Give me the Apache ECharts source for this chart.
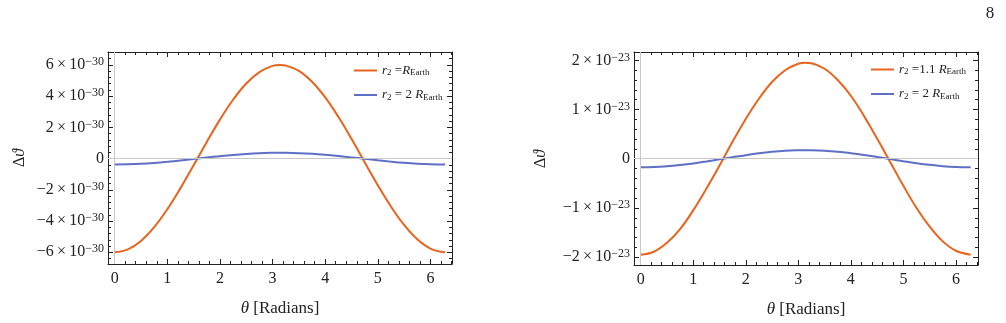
<!DOCTYPE html>
<html>
<head>
<meta charset="utf-8">
<script src="https://cdn.jsdelivr.net/npm/echarts@6/dist/echarts.min.js"></script>
<style>
  html, body { margin: 0; padding: 0; background: #fff; }
  #chart-container { width: 1006px; height: 323px; }
</style>
</head>
<body>
<div id="chart-container"></div>
<script>
// theta samples (radians)
const theta = [0, 0.25, 0.5, 0.75, 1, 1.25, 1.5, 1.75, 2, 2.25, 2.5, 2.75, 3, 3.14, 3.25, 3.5,
  3.75, 4, 4.25, 4.5, 4.75, 5, 5.25, 5.5, 5.75, 6, 6.28];

// left panel, units of 1e-30
const leftR1 = [-6, -5.81, -5.27, -4.39, -3.24, -1.89, -0.43, 1.07, 2.5, 3.77, 4.81, 5.54, 5.94, 6,
  5.96, 5.62, 4.92, 3.92, 2.68, 1.27, -0.23, -1.7, -3.07, -4.25, -5.17, -5.76, -6];
const leftR2 = [-0.375, -0.363, -0.329, -0.275, -0.203, -0.118, -0.027, 0.067, 0.156, 0.236, 0.3,
  0.347, 0.371, 0.375, 0.373, 0.351, 0.308, 0.245, 0.167, 0.079, -0.014, -0.107, -0.192, -0.266,
  -0.323, -0.36, -0.375];

// right panel, units of 1e-23
const rightR1 = [-1.95, -1.89, -1.71, -1.43, -1.05, -0.61, -0.14, 0.35, 0.81, 1.22, 1.56, 1.8, 1.93, 1.95,
  1.94, 1.83, 1.6, 1.28, 0.87, 0.41, -0.07, -0.55, -1, -1.38, -1.68, -1.87, -1.95];
const rightR2 = [-0.175, -0.17, -0.154, -0.128, -0.095, -0.055, -0.012, 0.031, 0.073, 0.11, 0.14,
  0.162, 0.173, 0.175, 0.174, 0.164, 0.144, 0.114, 0.078, 0.037, -0.007, -0.05, -0.09, -0.124,
  -0.151, -0.168, -0.175];

const xTicks = [0, 1, 2, 3, 4, 5, 6];
const leftYTicks = [-6, -4, -2, 0, 2, 4, 6];
const rightYTicks = [-2, -1, 0, 1, 2];
const leftExp = '−30';
const rightExp = '−23';

const legendText = {
  a1: '{i|r}{sub|2} ={i|R}{sub|Earth}',
  a2: '{i|r}{sub|2} = 2 {i|R}{sub|Earth}',
  b1: '{i|r}{sub|2} =1.1 {i|R}{sub|Earth}',
  b2: '{i|r}{sub|2} = 2 {i|R}{sub|Earth}'
};

const serif = 'Liberation Serif';
const ORANGE = '#e8641c';
const BLUE = '#5e6fc6';
const FRAME = '#222';

function minors(lo, hi, step, majors) {
  const out = [];
  const start = Math.ceil(lo / step - 1e-9);
  for (let k = start; k * step <= hi + 1e-9; k++) {
    const v = +(k * step).toFixed(6);
    if (!majors.some(m => Math.abs(m - v) < 1e-9)) out.push(v);
  }
  return out;
}

function sciLabel(exp) {
  return function (v) {
    if (v === 0) return '{b|0}';
    const sign = v < 0 ? '−' : '';
    return '{b|' + sign + Math.abs(v) + '\u2009×\u200910}{s|' + exp + '}';
  };
}

const labelRich = {
  b: { fontFamily: serif, fontSize: 16, color: '#222' },
  s: { fontFamily: serif, fontSize: 12, color: '#222', verticalAlign: 'top', padding: [0, 0, 6, 0] }
};

const zip = (xs, ys) => xs.map((x, i) => [x, ys[i]]);

var dom = document.getElementById('chart-container');
var myChart = echarts.init(dom, null, { renderer: 'canvas' });

const panels = [
  { left: 108, width: 344, top: 52, height: 212, xr: [-0.127, 6.41], yr: [-6.75, 6.83],
    yTicks: leftYTicks, yStep: 0.4, exp: leftExp, names: ['a1', 'a2'], data: [leftR1, leftR2] },
  { left: 634, width: 344, top: 52, height: 213, xr: [-0.127, 6.42], yr: [-2.16, 2.17],
    yTicks: rightYTicks, yStep: 0.2, exp: rightExp, names: ['b1', 'b2'], data: [rightR1, rightR2] }
];

const grid = [], xAxis = [], yAxis = [], series = [];

panels.forEach((p, gi) => {
  grid.push({ left: p.left, top: p.top, width: p.width, height: p.height, outerBoundsMode: 'none' });
  const xMin = minors(p.xr[0], p.xr[1], 0.2, xTicks);
  const yMin = minors(p.yr[0], p.yr[1], p.yStep, p.yTicks);
  const baseX = { type: 'value', gridIndex: gi, min: p.xr[0], max: p.xr[1], splitLine: { show: false } };
  const baseY = { type: 'value', gridIndex: gi, min: p.yr[0], max: p.yr[1], splitLine: { show: false } };
  ['bottom', 'top'].forEach(pos => {
    xAxis.push(Object.assign({}, baseX, {
      position: pos,
      axisLine: { show: true, onZero: false, lineStyle: { color: FRAME, width: 1 } },
      axisTick: { show: true, inside: true, length: 5, customValues: xTicks, lineStyle: { color: FRAME } },
      axisLabel: pos === 'bottom'
        ? { show: true, customValues: xTicks, margin: 7, fontFamily: serif, fontSize: 16, color: '#222' }
        : { show: false },
      name: pos === 'bottom' ? '{i|θ} [Radians]' : '',
      nameLocation: 'middle',
      nameGap: 36,
      nameTextStyle: {
        fontFamily: serif, fontSize: 17, color: '#222',
        rich: { i: { fontFamily: serif, fontStyle: 'italic', fontSize: 17, color: '#222' } }
      }
    }));
    xAxis.push(Object.assign({}, baseX, {
      position: pos,
      axisLine: { show: false, onZero: false },
      axisTick: { show: true, inside: true, length: 3, customValues: xMin, lineStyle: { color: FRAME } },
      axisLabel: { show: false }
    }));
  });
  ['left', 'right'].forEach(pos => {
    yAxis.push(Object.assign({}, baseY, {
      position: pos,
      axisLine: { show: true, onZero: false, lineStyle: { color: FRAME, width: 1 } },
      axisTick: { show: true, inside: true, length: 5, customValues: p.yTicks, lineStyle: { color: FRAME } },
      axisLabel: pos === 'left'
        ? { show: true, customValues: p.yTicks, margin: 4, formatter: sciLabel(p.exp), rich: labelRich }
        : { show: false }
    }));
    yAxis.push(Object.assign({}, baseY, {
      position: pos,
      axisLine: { show: false, onZero: false },
      axisTick: { show: true, inside: true, length: 3, customValues: yMin, lineStyle: { color: FRAME } },
      axisLabel: { show: false }
    }));
  });
  const xi = gi * 4, yi = gi * 4;
  series.push({
    name: p.names[0], type: 'line', xAxisIndex: xi, yAxisIndex: yi, showSymbol: false, smooth: 0.4,
    data: zip(theta, p.data[0]), lineStyle: { color: ORANGE, width: 2 }, itemStyle: { color: ORANGE },
    z: 3,
    markLine: {
      silent: true, symbol: 'none', label: { show: false }, animation: false,
      lineStyle: { color: '#c8c8c8', width: 1, type: 'solid' },
      data: [{ yAxis: 0 }, { xAxis: 0 }]
    }
  });
  series.push({
    name: p.names[1], type: 'line', xAxisIndex: xi, yAxisIndex: yi, showSymbol: false, smooth: 0.4,
    data: zip(theta, p.data[1]), lineStyle: { color: BLUE, width: 2 }, itemStyle: { color: BLUE },
    z: 4
  });
});

const legendRich = {
  i: { fontFamily: serif, fontStyle: 'italic', fontSize: 13, color: '#222' },
  sub: { fontFamily: serif, fontSize: 9, color: '#222', verticalAlign: 'bottom', padding: [5, 0, 0, 0] }
};
const legendBase = {
  orient: 'vertical', icon: 'rect', itemWidth: 23, itemHeight: 2, itemGap: 11,
  selectedMode: false,
  formatter: n => legendText[n],
  textStyle: { fontFamily: serif, fontSize: 13, color: '#222', rich: legendRich }
};

option = {
  animation: false,
  backgroundColor: '#fff',
  grid: grid,
  xAxis: xAxis,
  yAxis: yAxis,
  legend: [
    Object.assign({}, legendBase, { left: 349, top: 59, data: ['a1', 'a2'] }),
    Object.assign({}, legendBase, { left: 866, top: 58, data: ['b1', 'b2'] })
  ],
  graphic: [
    { type: 'text', x: 990, y: 14, style: { text: '8', font: '17px "Liberation Serif"', fill: '#222', textAlign: 'center', textVerticalAlign: 'middle', align: 'center', verticalAlign: 'middle' } },
    { type: 'text', x: 20, y: 158, rotation: Math.PI / 2,
      style: { text: '{u|Δ}{i|ϑ}', textAlign: 'center', textVerticalAlign: 'middle', align: 'center', verticalAlign: 'middle',
        rich: { u: { font: '16px "Liberation Serif"', fill: '#222' }, i: { font: 'italic 16px "Liberation Serif"', fill: '#222' } } } },
    { type: 'text', x: 541, y: 159, rotation: Math.PI / 2,
      style: { text: '{u|Δ}{i|ϑ}', textAlign: 'center', textVerticalAlign: 'middle', align: 'center', verticalAlign: 'middle',
        rich: { u: { font: '16px "Liberation Serif"', fill: '#222' }, i: { font: 'italic 16px "Liberation Serif"', fill: '#222' } } } }
  ],
  series: series
};

if (option && typeof option === 'object') {
  myChart.setOption(option);
}

window.addEventListener('resize', myChart.resize);
</script>
</body>
</html>
